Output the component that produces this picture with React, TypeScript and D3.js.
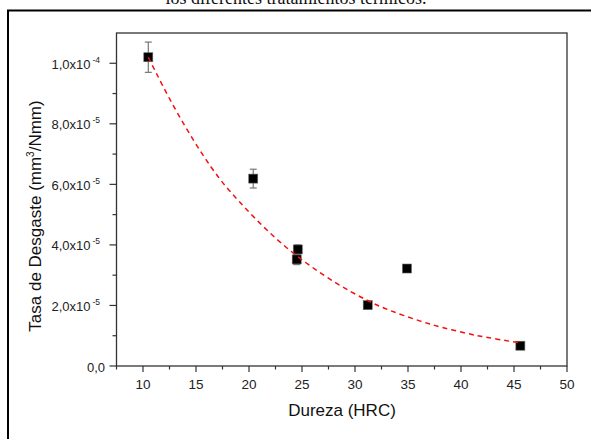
import React from "react";
import * as d3 from "d3";

const hardness = [10.5, 20.4, 24.6, 24.5, 31.2, 34.9, 45.6];
const wearRate = [1.02e-4, 6.19e-5, 3.85e-5, 3.52e-5, 2.01e-5, 3.22e-5, 0.67e-5];
const wearErr = [0.5e-5, 0.31e-5, 0.15e-5, 0.17e-5, 0.08e-5, 0.12e-5, 0.05e-5];

const fitX = [10.5, 13, 16.6, 19, 22, 25, 28.3, 31.2, 33, 36.4, 38, 40.85, 42, 44.9, 45.6];
const fitY = [1.02e-4, 8.45e-5, 6.4e-5, 5.45e-5, 4.35e-5, 3.48e-5, 2.7e-5, 2.15e-5, 1.86e-5, 1.45e-5, 1.29e-5, 1.05e-5, 0.97e-5, 0.8e-5, 0.76e-5];

const xMajor = [10, 15, 20, 25, 30, 35, 40, 45, 50];
const xMinor = [7.5, 12.5, 17.5, 22.5, 27.5, 32.5, 37.5, 42.5, 47.5];
const yMajor = [0, 2e-5, 4e-5, 6e-5, 8e-5, 1e-4];
const yMinor = [1e-5, 3e-5, 5e-5, 7e-5, 9e-5];
const yLabelMant = ["0,0", "2,0x10", "4,0x10", "6,0x10", "8,0x10", "1,0x10"];
const yLabelExp = ["", "-5", "-5", "-5", "-5", "-4"];

const title = "los diferentes tratamientos térmicos.";
const xTitle = "Dureza (HRC)";

export default function App() {
  const left = 116.5, right = 567, top = 33, bottom = 366;
  const x = d3.scaleLinear().domain([7.5, 50]).range([left, right]);
  const y = d3.scaleLinear().domain([0, 1.1e-4]).range([bottom, top]);
  const line = d3
    .line<number>()
    .x((_, i) => x(fitX[i]))
    .y((d) => y(d))
    .curve(d3.curveBasis);
  const sans = "'Liberation Sans', Arial, sans-serif";
  const axisColor = "#333";
  return (
    <svg
      width={591}
      height={439}
      style={{ position: "absolute", left: 0, top: 0, background: "#fff" }}
    >
      <rect x={0} y={0} width={591} height={439} fill="#fff" />
      <text
        x={296}
        y={4}
        textAnchor="middle"
        fontFamily="'Liberation Serif', 'Times New Roman', serif"
        fontSize={18}
        fill="#111"
      >
        {title}
      </text>
      <rect x={8} y={10.5} width={600} height={450} fill="none" stroke="#000" strokeWidth={2} />
      {/* plot box */}
      <rect x={left} y={top} width={right - left} height={bottom - top} fill="none" stroke={axisColor} strokeWidth={1.3} />
      {/* x ticks */}
      {xMajor.map((v) => (
        <g key={"xm" + v}>
          <line x1={x(v)} x2={x(v)} y1={bottom} y2={bottom + 6} stroke={axisColor} strokeWidth={1.2} />
          <text x={x(v)} y={389} textAnchor="middle" fontFamily={sans} fontSize={13.5} fill="#222">
            {v}
          </text>
        </g>
      ))}
      {xMinor.map((v) => (
        <line key={"xn" + v} x1={x(v)} x2={x(v)} y1={bottom} y2={bottom + 3.5} stroke={axisColor} strokeWidth={1.2} />
      ))}
      {/* y ticks */}
      {yMajor.map((v, i) => (
        <g key={"ym" + v}>
          <line x1={left - 7} x2={left} y1={y(v)} y2={y(v)} stroke={axisColor} strokeWidth={1.2} />
          <text x={yLabelExp[i] ? 99.5 - 9 : 105} y={y(v) + 5.5} textAnchor="end" fontFamily={sans} fontSize={13} fill="#222">
            {yLabelMant[i]}
          </text>
          {yLabelExp[i] && (
            <text x={100} y={y(v) - 0.5} textAnchor="end" fontFamily={sans} fontSize={8.5} fill="#222">
              {yLabelExp[i]}
            </text>
          )}
        </g>
      ))}
      {yMinor.map((v) => (
        <line key={"yn" + v} x1={left - 4} x2={left} y1={y(v)} y2={y(v)} stroke={axisColor} strokeWidth={1.2} />
      ))}
      {/* axis titles */}
      <text x={342} y={416} textAnchor="middle" fontFamily={sans} fontSize={17} fill="#111">
        {xTitle}
      </text>
      <text
        transform={`translate(41,216) rotate(-90)`}
        textAnchor="middle"
        fontFamily={sans}
        fontSize={17}
        fill="#111"
      >
        Tasa de Desgaste (mm
        <tspan fontSize={10} dy={-7}>3</tspan>
        <tspan dy={7}>/Nmm)</tspan>
      </text>
      {/* error bars */}
      {hardness.map((h, i) => (
        <g key={"e" + i} stroke="#777" strokeWidth={1.2}>
          <line x1={x(h)} x2={x(h)} y1={y(wearRate[i] - wearErr[i])} y2={y(wearRate[i] + wearErr[i])} />
          <line x1={x(h) - 3.5} x2={x(h) + 3.5} y1={y(wearRate[i] + wearErr[i])} y2={y(wearRate[i] + wearErr[i])} />
          <line x1={x(h) - 3.5} x2={x(h) + 3.5} y1={y(wearRate[i] - wearErr[i])} y2={y(wearRate[i] - wearErr[i])} />
        </g>
      ))}
      {/* markers */}
      {hardness.map((h, i) => (
        <rect key={"p" + i} x={x(h) - 4.5} y={y(wearRate[i]) - 4.5} width={9} height={9} fill="#000" stroke="#666" strokeWidth={0.6} />
      ))}
      {/* fit curve */}
      <path d={line(fitY) || ""} fill="none" stroke="#f01010" strokeWidth={1.5} strokeDasharray="5,4" />
    </svg>
  );
}
